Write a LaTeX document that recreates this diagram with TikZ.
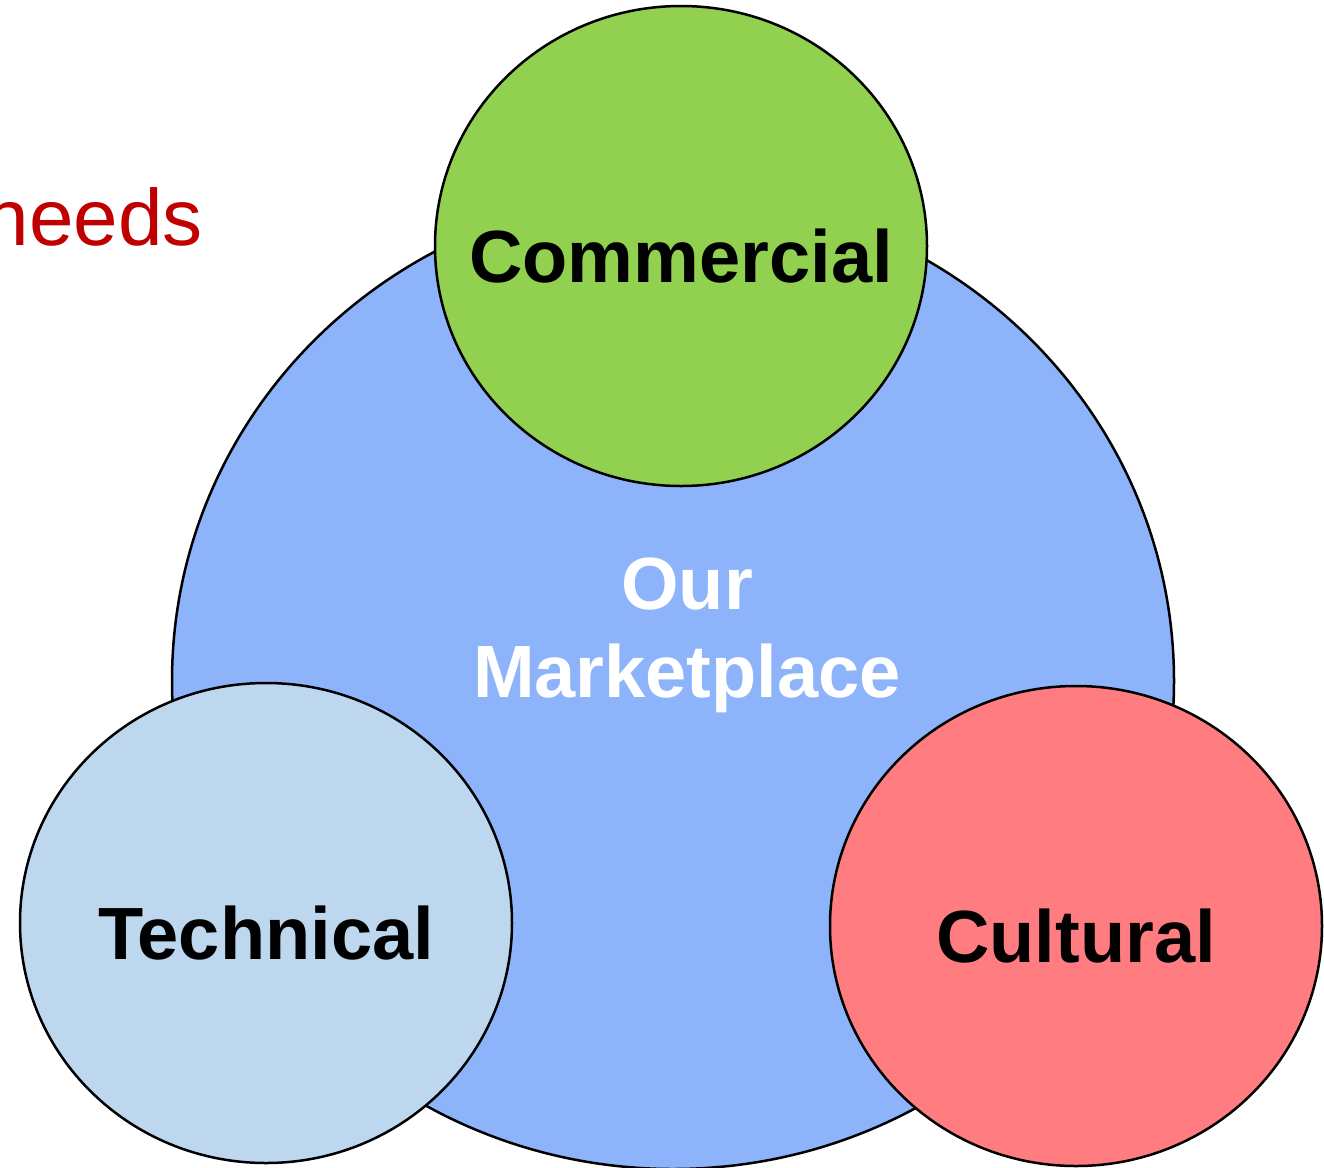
\documentclass[tikz,border=0pt]{standalone}
\usepackage{fontspec}
\setmainfont{Liberation Sans}
\usepackage{xcolor}
\usetikzlibrary{shapes.geometric}
\definecolor{marketblue}{RGB}{141,180,250}
\definecolor{commgreen}{RGB}{146,208,80}
\definecolor{techblue}{RGB}{189,215,238}
\definecolor{cultred}{RGB}{255,124,128}
\definecolor{needsred}{RGB}{192,0,0}
\tikzset{
bubble/.style={
  ellipse,
  draw=black,
  line width=1.25pt,
  minimum width=246pt,
  minimum height=240pt,
  inner sep=0pt
},
bubble text/.style={
  font=\fontsize{37}{44}\selectfont\bfseries,
  yshift=-5pt
},
market/.style={
  ellipse,
  draw=black,
  line width=1.25pt,
  minimum width=501pt,
  minimum height=488pt,
  inner sep=0pt,
  fill=marketblue
}
}

\begin{document}
\begin{tikzpicture}[x=0.5pt,y=-0.5pt]
% page frame
\useasboundingbox (0,0) rectangle (1324,1168);
% the big circle
\node[market] (mkt) at (673,681) {};
\node[text=white,align=center,font=\fontsize{37}{44}\selectfont\bfseries] (mktlabel) at (687,635) {Our\\Marketplace};
% the three small circles
\node[bubble,fill=commgreen,label={[bubble text]center:Commercial}] (comm) at (681,246) {};
\node[bubble,fill=techblue,label={[bubble text]center:Technical}] (tech) at (266,923) {};
\node[bubble,fill=cultred,label={[bubble text]center:Cultural}] (cult) at (1076,926) {};
% text cut at the left edge
\node[anchor=base east,inner sep=0pt,text=needsred,font=\fontsize{40}{48}\selectfont] (needs) at (203,245) {needs};
\end{tikzpicture}
\end{document}
